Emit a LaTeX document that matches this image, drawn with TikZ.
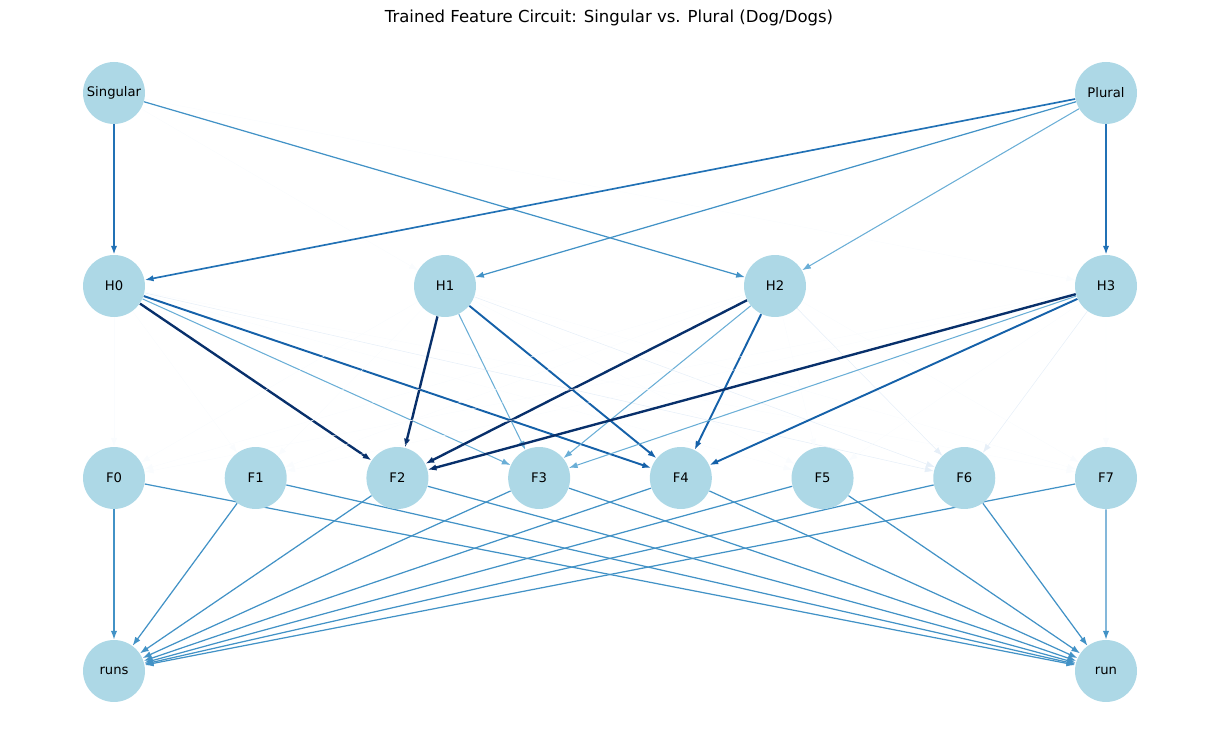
\documentclass[tikz,border=0pt]{standalone}
\usepackage{fontspec}
\setmainfont{DejaVu Sans}
\usetikzlibrary{arrows.meta,backgrounds}
\definecolor{nodeblue}{HTML}{ADD8E6}
\definecolor{bghost}{HTML}{FAFCFE}
\definecolor{bfaint}{HTML}{E6EFF8}
\definecolor{blight}{HTML}{6AAED6}
\definecolor{bmid}{HTML}{4292C6}
\definecolor{bstrong}{HTML}{2171B5}
\definecolor{bdeep}{HTML}{1561A9}
\definecolor{bdark}{HTML}{08306B}
\tikzset{
  vert/.style={circle,fill=nodeblue,minimum size=1.24cm,inner sep=0pt,font=\fontsize{7.5}{9}\selectfont},
  wire/.style={-{Latex[length=5pt,width=3.6pt]}},
  ghost/.style={wire,draw=bghost,line width=0.25pt},
  faint/.style={wire,draw=bfaint,line width=0.3pt},
  light/.style={wire,draw=blight,line width=0.6pt},
  mid/.style={wire,draw=bmid,line width=0.7pt},
  strong/.style={wire,draw=bstrong,line width=0.95pt},
  deep/.style={wire,draw=bdeep,line width=1.1pt},
  darkest/.style={wire,draw=bdark,line width=1.35pt}
}
\begin{document}
\begin{tikzpicture}[x=0.02cm,y=-0.02cm]
  \useasboundingbox (0,0) rectangle (1220,742);
  \node (title) at (609,18) {\fontsize{9.4}{11}\selectfont Trained Feature Circuit: Singular vs. Plural (Dog/Dogs)};
  % inputs
  \node[vert] (sg) at (114,93) {Singular};
  \node[vert] (pl) at (1106,93) {Plural};
  % hidden and features
  \foreach \i/\x in {0/114,1/445,2/775,3/1106}
    \node[vert] (h\i) at (\x,286) {H\i};
  \foreach \i in {0,...,7}
    \node[vert] (f\i) at (114+141.71*\i,478) {F\i};
  % outputs
  \node[vert] (runs) at (114,671) {runs};
  \node[vert] (run) at (1106,671) {run};
  \begin{scope}[on background layer]
    \foreach \a/\b/\s in {sg/h1/ghost,sg/h3/ghost,sg/h0/strong,sg/h2/mid,
        pl/h0/strong,pl/h1/mid,pl/h2/light,pl/h3/strong}
      \draw[\s] (\a) -- (\b);
    \foreach \h in {0,...,3}{
      \foreach \f/\s in {0/ghost,1/ghost,5/ghost,7/ghost,6/faint,3/light,4/deep,2/darkest}
        \draw[\s] (h\h) -- (f\f);
    }
    \foreach \f in {0,...,7}{
      \draw[mid] (f\f) -- (runs);
      \draw[mid] (f\f) -- (run);
    }
  \end{scope}
\end{tikzpicture}
\end{document}
